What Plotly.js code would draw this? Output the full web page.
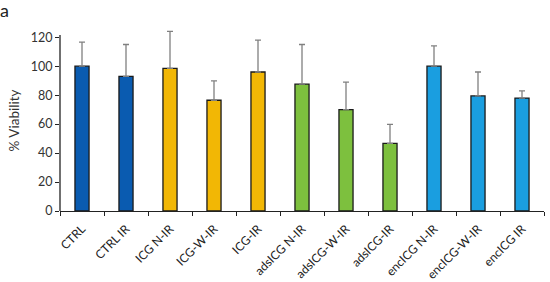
<!DOCTYPE html>
<html>
<head>
<script src="https://cdn.plot.ly/plotly-3.0.1.min.js"></script>
<style>body{margin:0;padding:0;background:#fff}#chart{width:550px;height:282px}</style>
</head>
<body>
<div id="chart"></div>
<script>
const categories = ["CTRL","CTRL IR","ICG N-IR","ICG-W-IR","ICG-IR","adsICG N-IR","adsICG-W-IR","adsICG-IR","encICG N-IR","encICG-W-IR","encICG IR"];
const viability = [100, 93, 98.5, 76.5, 96, 87.6, 70, 46.7, 100, 79.5, 78];
const errorUp = [16.6, 22, 25.5, 13.4, 22, 27.4, 19, 13.1, 14, 16.5, 5];
const barColors = ["#0a5bb0","#0a5bb0","#f2b705","#f2b705","#f2b705","#7dc03e","#7dc03e","#7dc03e","#1a9ee0","#1a9ee0","#1a9ee0"];

const trace = {
  type: "bar",
  x: categories,
  y: viability,
  width: 0.32,
  marker: {color: barColors, line: {color: "#1a1a1a", width: 1.3}},
  error_y: {type: "data", array: errorUp, symmetric: false, arrayminus: categories.map(()=>0), color: "#808080", thickness: 1.3, width: 3}
};

const layout = {
  width: 550, height: 282,
  margin: {l: 60, r: 6, t: 30, b: 71},
  paper_bgcolor: "#fff", plot_bgcolor: "#fff",
  font: {family: "Lato, Open Sans, Liberation Sans, sans-serif", color: "#333", size: 11},
  showlegend: false,
  xaxis: {
    type: "category", tickangle: -45, showline: true, linecolor: "#222", linewidth: 1.3,
    ticks: "outside", tickson: "boundaries", ticklen: 4, tickcolor: "#222",
    tickfont: {size: 12, color: "#222"}, ticklabelstandoff: 5, showgrid: false, zeroline: false
  },
  yaxis: {
    range: [0, 125], tickvals: [0,20,40,60,80,100,120], showline: false,
    ticks: "outside", ticklen: 4, tickcolor: "#222", showgrid: false, zeroline: false,
    tickfont: {size: 12.5, color: "#333"},
    title: {text: "% Viability", font: {size: 13.5, color: "#333"}, standoff: 8}
  },
  shapes: [{type: "line", xref: "paper", yref: "y", x0: 0, x1: 0, y0: 0, y1: 121.5, line: {color: "#222", width: 1.3}}],
  annotations: [{text: "a", xref: "paper", yref: "paper", x: 0, y: 1, xanchor: "left", yanchor: "top", showarrow: false, font: {size: 18, color: "#222"}, xshift: -62, yshift: 33}]
};

Plotly.newPlot("chart", [trace], layout, {displayModeBar: false, staticPlot: true});
</script>
</body>
</html>
